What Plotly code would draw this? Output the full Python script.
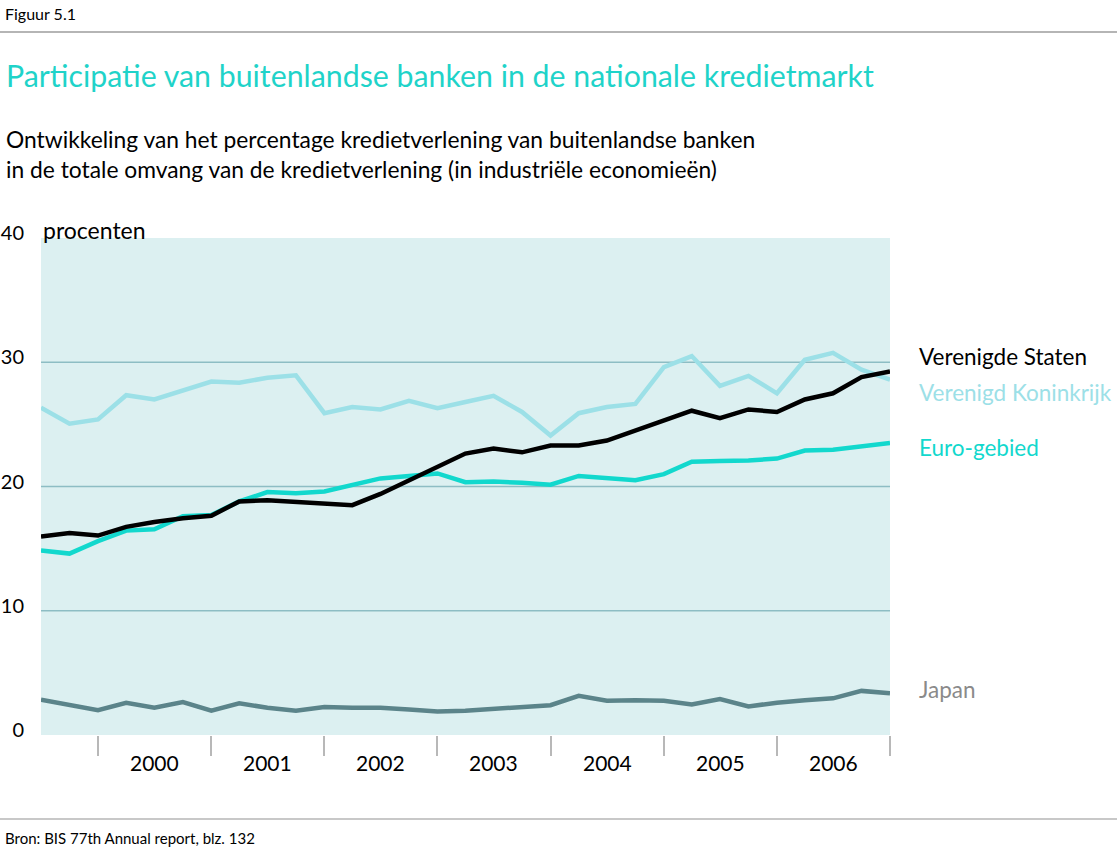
import plotly.graph_objects as go

# Quarterly observations (end of quarter), Q2 1999 .. Q4 2006
quarters = [
    "1999-07-01", "1999-10-01",
    "2000-01-01", "2000-04-01", "2000-07-01", "2000-10-01",
    "2001-01-01", "2001-04-01", "2001-07-01", "2001-10-01",
    "2002-01-01", "2002-04-01", "2002-07-01", "2002-10-01",
    "2003-01-01", "2003-04-01", "2003-07-01", "2003-10-01",
    "2004-01-01", "2004-04-01", "2004-07-01", "2004-10-01",
    "2005-01-01", "2005-04-01", "2005-07-01", "2005-10-01",
    "2006-01-01", "2006-04-01", "2006-07-01", "2006-10-01",
    "2007-01-01",
]

verenigde_staten = [15.98, 16.25, 16.05, 16.75, 17.15, 17.45, 17.65, 18.8, 18.9, 18.75,
                    18.66, 18.5, 19.4, 20.5, 21.55, 22.65, 23.05, 22.75, 23.3, 23.3,
                    23.7, 24.5, 25.3, 26.1, 25.5, 26.2, 26.0, 27.0, 27.5, 28.8, 29.25]
verenigd_koninkrijk = [26.35, 25.05, 25.4, 27.35, 27.0, 27.75, 28.45, 28.35, 28.75, 28.95,
                       25.9, 26.4, 26.2, 26.9, 26.3, 26.8, 27.3, 26.0, 24.1, 25.9,
                       26.4, 26.65, 29.6, 30.5, 28.1, 28.9, 27.5, 30.2, 30.75, 29.4, 28.6]
euro_gebied = [14.85, 14.6, 15.6, 16.45, 16.55, 17.6, 17.7, 18.8, 19.55, 19.45,
               19.6, 20.1, 20.65, 20.85, 21.05, 20.35, 20.4, 20.3, 20.15, 20.85,
               20.7, 20.5, 21.0, 22.0, 22.05, 22.1, 22.25, 22.9, 22.95, 23.2, 23.5]
japan = [2.85, 2.45, 2.0, 2.6, 2.2, 2.65, 1.95, 2.55, 2.2, 1.95,
         2.25, 2.2, 2.2, 2.05, 1.9, 1.95, 2.1, 2.25, 2.4, 3.15,
         2.75, 2.8, 2.75, 2.45, 2.9, 2.3, 2.6, 2.8, 2.95, 3.55, 3.35]

years = ["2000", "2001", "2002", "2003", "2004", "2005", "2006"]
year_mid = ["2000-07-02", "2001-07-02", "2002-07-02", "2003-07-02",
            "2004-07-02", "2005-07-02", "2006-07-02"]
year_ticks = ["2000-01-01", "2001-01-01", "2002-01-01", "2003-01-01",
              "2004-01-01", "2005-01-01", "2006-01-01", "2007-01-01"]
y_ticks = [0, 10, 20, 30, 40]
grid_vals = [10, 20, 30]

series = [
    ("Verenigd Koninkrijk", verenigd_koninkrijk, "#9ce0e7", 4.5),
    ("Euro-gebied", euro_gebied, "#12d8cd", 4.5),
    ("Verenigde Staten", verenigde_staten, "#000000", 4.5),
    ("Japan", japan, "#5b848a", 4.5),
]
label_pos = {"Verenigde Staten": (30.5, "#000000"),
             "Verenigd Koninkrijk": (27.6, "#9ce0e7"),
             "Euro-gebied": (23.1, "#12d8cd"),
             "Japan": (3.66, "#8a8a8a")}

FONT = "Lato"
fig = go.Figure()
for name, vals, color, w in series:
    fig.add_trace(go.Scatter(x=quarters, y=vals, mode="lines", name=name,
                             line=dict(color=color, width=w, shape="linear"),
                             showlegend=False, hoverinfo="skip"))

shapes = []
for g in grid_vals:
    shapes.append(dict(type="line", xref="paper", yref="y", x0=0, x1=1, y0=g, y1=g,
                       line=dict(color="#8dbdc4", width=1.6), layer="below"))
# separator rules
shapes.append(dict(type="line", xref="paper", yref="paper", x0=-0.05, x1=1.3,
                   y0=(848 - 32 - 113) / 497, y1=(848 - 32 - 113) / 497,
                   line=dict(color="#b5b5b5", width=2)))
shapes.append(dict(type="line", xref="paper", yref="paper", x0=-0.05, x1=1.3,
                   y0=(848 - 819 - 113) / 497, y1=(848 - 819 - 113) / 497,
                   line=dict(color="#c8c8c8", width=2)))

annotations = []
for name, (yv, col) in label_pos.items():
    annotations.append(dict(x=1.0, xref="paper", y=yv, yref="y", xshift=27,
                            yanchor="middle",
                            text=name, showarrow=False, xanchor="left",
                            font=dict(family=FONT, size=22.5, color=col)))
for lbl, xm in zip(years, year_mid):
    annotations.append(dict(x=xm, xref="x", y=0, yref="paper", yshift=-27,
                            yanchor="middle",
                            text=lbl, showarrow=False, xanchor="center",
                            font=dict(family=FONT, size=21, color="#000000")))
annotations.append(dict(x=0, xref="paper", y=1, yref="paper", yshift=8,
                        yanchor="middle",
                        text="procenten", showarrow=False, xanchor="left",
                        font=dict(family=FONT, size=23, color="#000000")))

fig.update_layout(
    width=1117, height=848,
    margin=dict(l=41, r=227, t=238, b=113),
    paper_bgcolor="#ffffff",
    plot_bgcolor="#dcf0f1",
    shapes=shapes,
    annotations=annotations,
    xaxis=dict(type="date", range=["1999-07-01", "2007-01-01"],
               tickvals=year_ticks, ticks="outside", ticklen=20, tickwidth=1.5,
               tickcolor="#b8b8b8", showticklabels=False, showgrid=False,
               zeroline=False, showline=False, automargin=False),
    yaxis=dict(range=[0, 40], tickvals=y_ticks, showgrid=False, zeroline=False,
               showline=False, ticks="", ticklabelstandoff=16, automargin=False,
               ticklabelshift=-5,
               tickfont=dict(family=FONT, size=20, color="#000000")),
)

# Titles and source
fig.add_annotation(text="Figuur 5.1", xref="paper", yref="paper",
                   x=-38 / 849, y=1 + (238 - 13) / 497, xanchor="left", yanchor="middle",
                   showarrow=False, font=dict(family=FONT, size=16, color="#000000"))
fig.add_annotation(text="Participatie van buitenlandse banken in de nationale kredietmarkt",
                   xref="paper", yref="paper", x=-37 / 849, y=1 + (238 - 75) / 497,
                   xanchor="left", yanchor="middle", showarrow=False,
                   font=dict(family=FONT, size=30.3, color="#1fd3c9"))
fig.add_annotation(text="Ontwikkeling van het percentage kredietverlening van buitenlandse banken<br>"
                        "in de totale omvang van de kredietverlening (in industriële economieën)",
                   xref="paper", yref="paper", x=-37 / 849, y=1 + (238 - 154) / 497,
                   xanchor="left", yanchor="middle", align="left", showarrow=False,
                   font=dict(family=FONT, size=22.8, color="#000000"))
fig.add_annotation(text="Bron: BIS 77th Annual report, blz. 132",
                   xref="paper", yref="paper", x=-38 / 849, y=-(838 - 735) / 497,
                   xanchor="left", yanchor="middle", showarrow=False,
                   font=dict(family=FONT, size=15, color="#000000"))

fig.write_html("out.html")
